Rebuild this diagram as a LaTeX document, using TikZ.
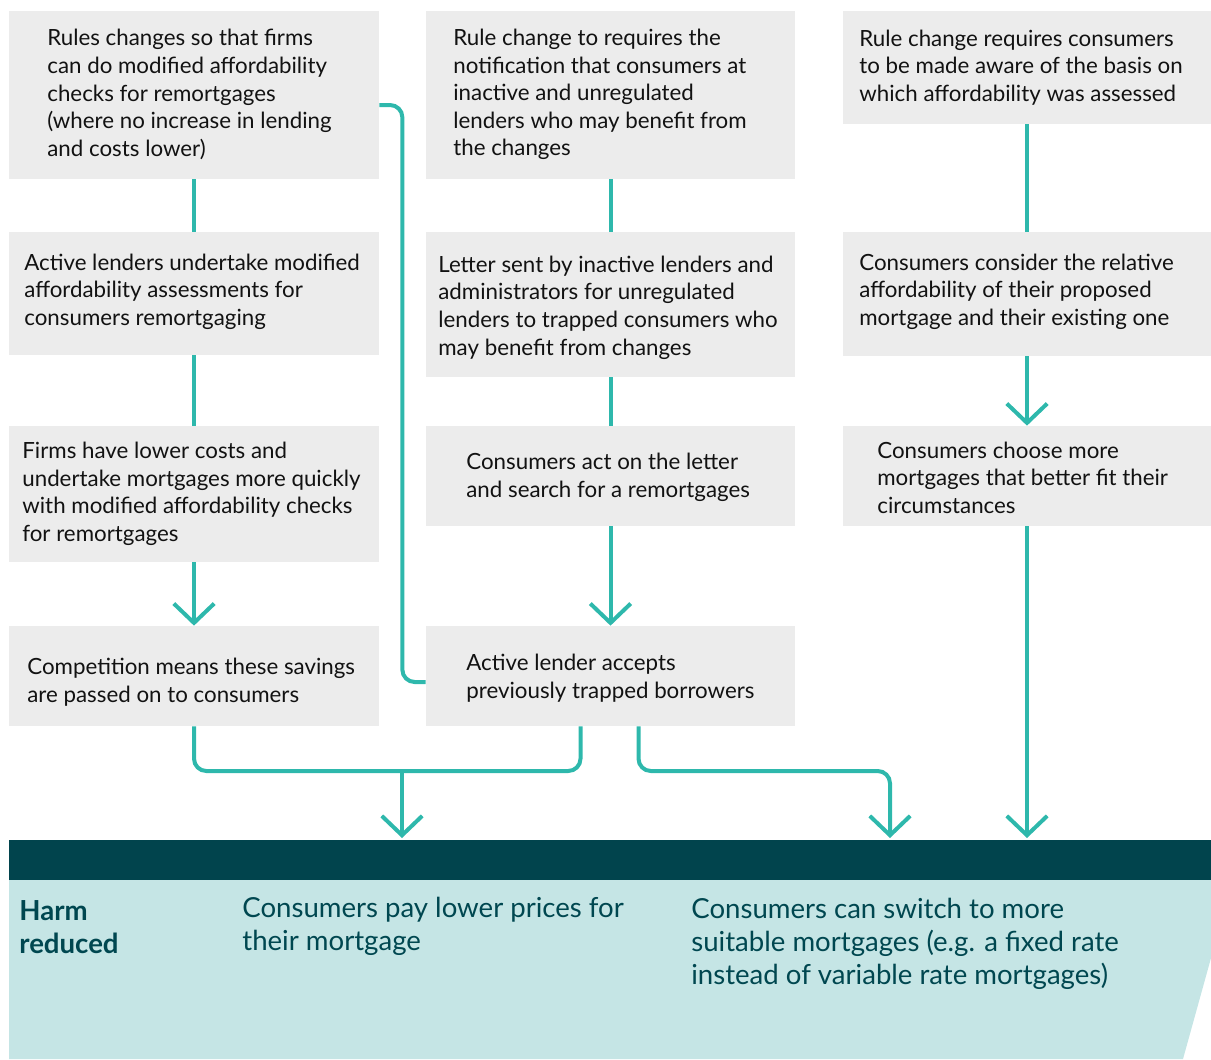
\documentclass[tikz,border=0pt]{standalone}
\usepackage{fontspec}
\setmainfont{Lato}
\usepackage{xcolor}
\usetikzlibrary{arrows.meta,calc,fit,positioning}

\definecolor{boxgrey}{HTML}{ECECEC}
\definecolor{flowteal}{HTML}{2EB8AC}
\definecolor{bardark}{HTML}{01444D}
\definecolor{panellight}{HTML}{C5E5E5}
\definecolor{harmtext}{HTML}{004750}

\tikzset{
	box/.style={fill=boxgrey, draw=none, inner sep=0pt},
	txt/.style={anchor=west, align=left, inner sep=0pt, text=black!93,
		font=\fontsize{12.7}{15.7}\selectfont},
	link/.style={draw=flowteal, line width=0.08cm, rounded corners=7pt},
	flow/.style={link, -{Straight Barb[length=11pt,width=23pt]}},
	harm/.style={anchor=west, align=left, inner sep=0pt, text=harmtext,
		font=\fontsize{15.7}{18.8}\selectfont},
}

\begin{document}
\begin{tikzpicture}[x=0.02cm, y=-0.02cm]
                        \useasboundingbox (0,0) rectangle (1211,1059);
                        
                        % Boxes, first column
                        \node [box, fit={(9,11) (379,179)}] (rules) {};%
                        \node [box, fit={(9,232) (379,355)}] (modified) {};%
                        \node [box, fit={(9,426) (379,562)}] (costs) {};%
                        \node [box, fit={(9,626) (379,726)}] (compete) {};%
                        
                        % Boxes, second column
                        \node [box, fit={(426,11) (795,179)}] (notify) {};%
                        \node [box, fit={(426,232) (795,377)}] (letter) {};%
                        \node [box, fit={(426,426) (795,526)}] (act) {};%
                        \node [box, fit={(426,626) (795,726)}] (accept) {};%
                        
                        % Boxes, third column
                        \node [box, fit={(843,11) (1211,124)}] (aware) {};%
                        \node [box, fit={(843,232) (1211,356)}] (consider) {};%
                        \node [box, fit={(843,426) (1211,526)}] (choose) {};%
                        
                        % Box texts
                        \node [txt] (rules-t) at (47,94.5) {Rules changes so that firms\\can do modified affordability\\checks for remortgages\\(where no increase in lending\\and costs lower)};%
                        \node [txt] (modified-t) at (24,291.5) {Active lenders undertake modified\\affordability assessments for\\consumers remortgaging};%
                        \node [txt] (costs-t) at (22,494) {Firms have lower costs and\\undertake mortgages more quickly\\with modified affordability checks\\for remortgages};%
                        \node [txt] (compete-t) at (27,682) {Competition means these savings\\are passed on to consumers};%
                        \node [txt] (notify-t) at (453,94.5) {Rule change to requires the\\notification that consumers at\\inactive and unregulated\\lenders who may benefit from\\the changes};%
                        \node [txt] (letter-t) at (438,307.5) {Letter sent by inactive lenders and\\administrators for unregulated\\lenders to trapped consumers who\\may benefit from changes};%
                        \node [txt] (act-t) at (466,477.5) {Consumers act on the letter\\and search for a remortgages};%
                        \node [txt] (accept-t) at (466,678) {Active lender accepts\\previously trapped borrowers};%
                        \node [txt] (aware-t) at (859,67.5) {Rule change requires consumers\\to be made aware of the basis on\\which affordability was assessed};%
                        \node [txt] (consider-t) at (859,291.5) {Consumers consider the relative\\affordability of their proposed\\mortgage and their existing one};%
                        \node [txt] (choose-t) at (877,477.5) {Consumers choose more\\mortgages that better fit their\\circumstances};%
                        
                        % Harm reduced panel
                        \fill [panellight] (9,880) -- (1211,880) -- (1211,958) -- (1183,1059) -- (9,1059) -- cycle;%
                        \node [fill=bardark, inner sep=0pt, fit={(9,840) (1211,880)}] (harmbar) {};%
                        \node [harm, font=\bfseries\fontsize{15.7}{18.8}\selectfont] (harm-t) at (19,927) {Harm\\reduced};%
                        \node [harm] (prices-t) at (242,926) {Consumers pay lower prices for\\their mortgage};%
                        \node [harm] (switch-t) at (691,944) {Consumers can switch to more\\suitable mortgages (e.g. a fixed rate\\instead of variable rate mortgages)};%
                        
                        % Drawing links in the columns
                        \draw [link] (rules.south) -- (modified.north);%
                        \draw [link] (modified.south) -- (costs.north);%
                        \draw [flow] (costs.south) -- (compete.north);%
                        \draw [link] (notify.south) -- (letter.north);%
                        \draw [link] (letter.south) -- (act.north);%
                        \draw [flow] (act.south) -- (accept.north);%
                        \draw [link] (aware.south) -- (consider.north);%
                        \draw [flow] (consider.south) -- (choose.north);%
                        
                        % Drawing link rules -> accept
                        \draw [link] ($(rules.east)+(0,10)$) -- ++(23,0) |- ($(accept.west)+(0,6)$);%
                        
                        % Drawing joined links into the bar
                        \coordinate (lower) at (402,838);%
                        \coordinate (switch) at (890,838);%
                        \coordinate (join) at (402,771);%
                        \draw [link] (compete.south) |- (join) -| ($(accept.south)+(-30,0)$);%
                        \draw [flow] (join) -- (lower);%
                        \draw [flow] ($(accept.south)+(28,0)$) |- (join -| switch) -- (switch);%
                        \draw [flow] (choose.south) -- (choose.south |- switch);%
                        
\end{tikzpicture}
\end{document}
